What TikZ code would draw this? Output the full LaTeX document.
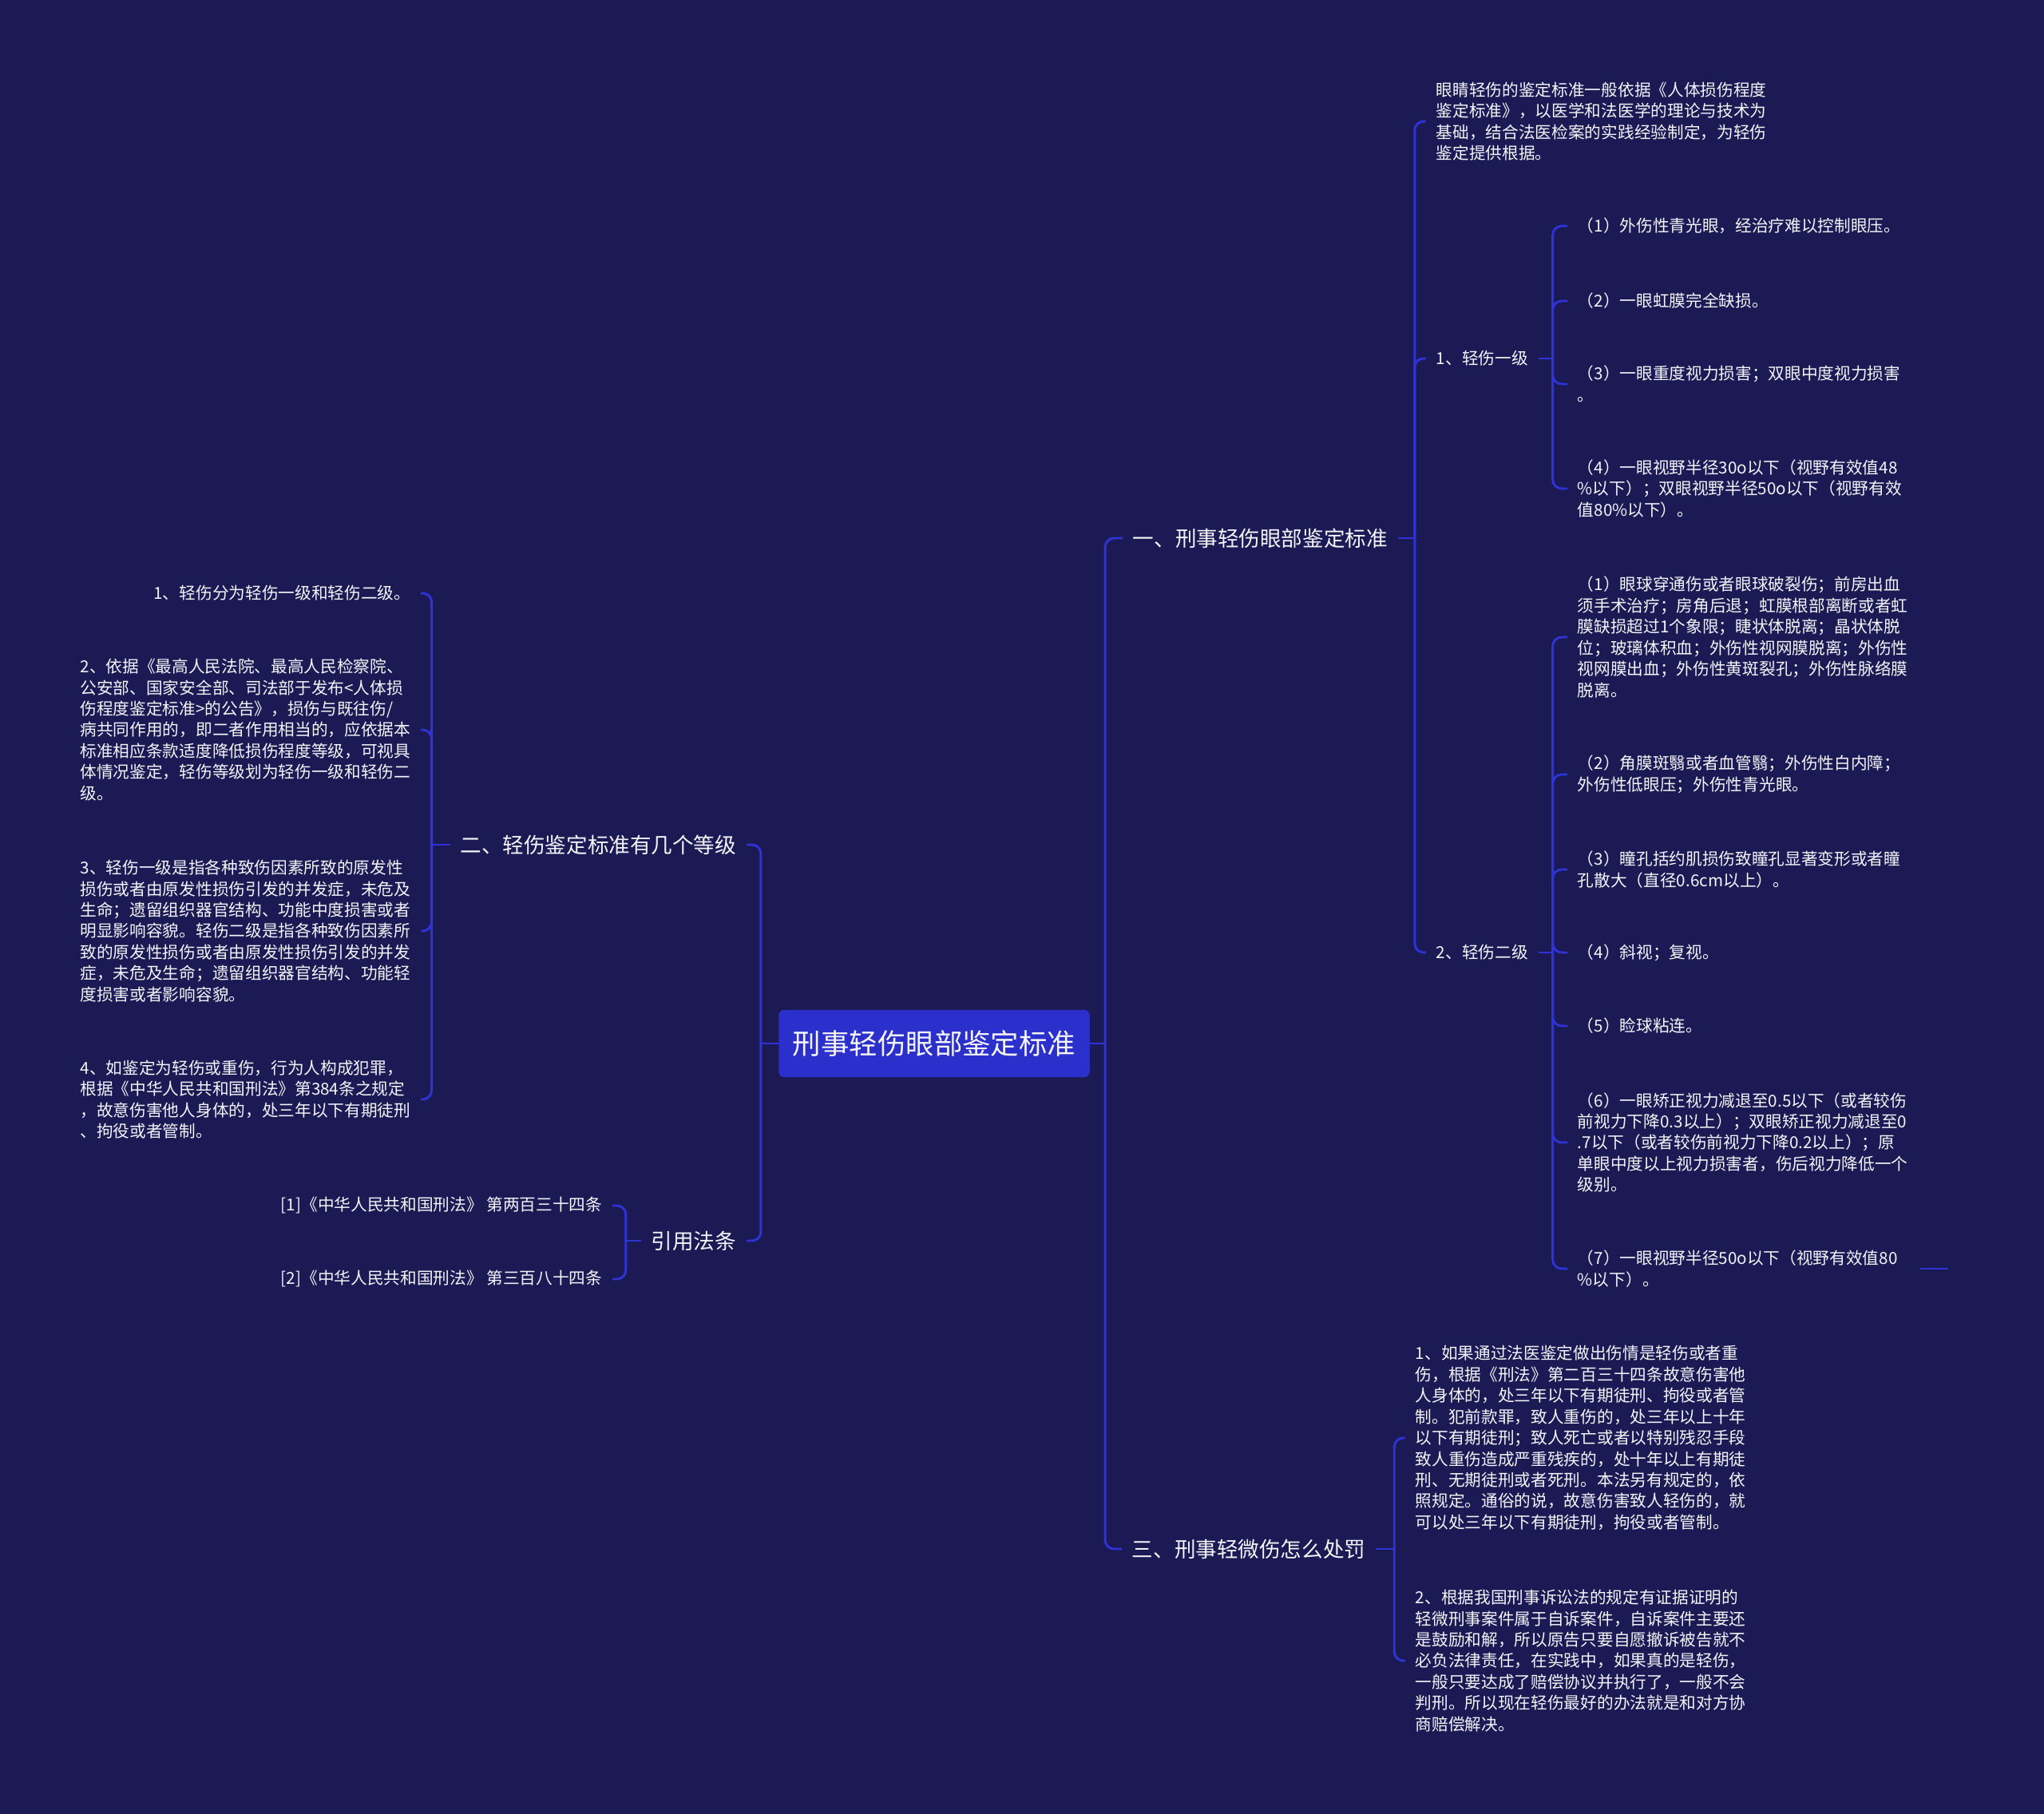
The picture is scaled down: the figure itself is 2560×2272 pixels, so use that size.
\documentclass[tikz,border=0pt]{standalone}
\usepackage{fontspec}
\setmainfont{Noto Sans CJK SC}
\definecolor{mapaFondo}{HTML}{1B1A55}
\definecolor{mapaAzul}{HTML}{2D33D6}
\definecolor{mapaRaiz}{HTML}{2B2FCC}
\definecolor{mapaTexto}{HTML}{F4F4F8}
\tikzset{
	raiz/.style={
		fill=mapaRaiz,
		rounded corners=5pt,
		text=mapaTexto,
		inner sep=0pt,
		minimum width=277pt,
		minimum height=60pt,
		font=\fontsize{25.2}{30}\selectfont
	},
	tema/.style={
		text=mapaTexto,
		inner xsep=9pt,
		inner ysep=2pt,
		font=\fontsize{18.9}{23}\selectfont
	},
	hoja/.style={
		text=mapaTexto,
		align=left,
		inner xsep=9pt,
		inner ysep=2pt,
		font=\fontsize{14.7}{18.8}\selectfont
	},
	enlace/.style={
		draw=mapaAzul,
		line width=2.1pt,
		rounded corners=8pt
	}
}

\begin{document}
\begin{tikzpicture}[x=0.025cm, y=-0.025cm]
	\fill[mapaFondo] (0,0) rectangle (2560,2272);
	\node[raiz] (raiz) at (1170,1307) {刑事轻伤眼部鉴定标准};

	% lado derecho
	\node[tema, anchor=west] (uno) at (1406,674) {一、刑事轻伤眼部鉴定标准};
	\node[tema, anchor=west] (tres) at (1405,1940) {三、刑事轻微伤怎么处罚};

	\node[hoja, anchor=west] (base) at (1786,152) {眼睛轻伤的鉴定标准一般依据《人体损伤程度\\鉴定标准》，以医学和法医学的理论与技术为\\基础，结合法医检案的实践经验制定，为轻伤\\鉴定提供根据。};
	\node[hoja, anchor=west] (g1) at (1786,449) {1、轻伤一级};
	\node[hoja, anchor=west] (g2) at (1786,1193) {2、轻伤二级};

	\node[hoja, anchor=west] (a1) at (1963,283) {（1）外伤性青光眼，经治疗难以控制眼压。};
	\node[hoja, anchor=west] (a2) at (1963,377) {（2）一眼虹膜完全缺损。};
	\node[hoja, anchor=west] (a3) at (1963,481) {（3）一眼重度视力损害；双眼中度视力损害\\。};
	\node[hoja, anchor=west] (a4) at (1963,612) {（4）一眼视野半径30o以下（视野有效值48\\\%以下）；双眼视野半径50o以下（视野有效\\值80\%以下）。};

	\node[hoja, anchor=west] (b1) at (1963,798) {（1）眼球穿通伤或者眼球破裂伤；前房出血\\须手术治疗；房角后退；虹膜根部离断或者虹\\膜缺损超过1个象限；睫状体脱离；晶状体脱\\位；玻璃体积血；外伤性视网膜脱离；外伤性\\视网膜出血；外伤性黄斑裂孔；外伤性脉络膜\\脱离。};
	\node[hoja, anchor=west] (b2) at (1963,970) {（2）角膜斑翳或者血管翳；外伤性白内障；\\外伤性低眼压；外伤性青光眼。};
	\node[hoja, anchor=west] (b3) at (1963,1089) {（3）瞳孔括约肌损伤致瞳孔显著变形或者瞳\\孔散大（直径0.6cm以上）。};
	\node[hoja, anchor=west] (b4) at (1963,1193) {（4）斜视；复视。};
	\node[hoja, anchor=west] (b5) at (1963,1285) {（5）睑球粘连。};
	\node[hoja, anchor=west] (b6) at (1963,1431) {（6）一眼矫正视力减退至0.5以下（或者较伤\\前视力下降0.3以上）；双眼矫正视力减退至0\\.7以下（或者较伤前视力下降0.2以上）；原\\单眼中度以上视力损害者，伤后视力降低一个\\级别。};
	\node[hoja, anchor=west] (b7) at (1963,1589) {（7）一眼视野半径50o以下（视野有效值80\\\%以下）。};
	\coordinate (b7fin) at (2440,1589);

	\node[hoja, anchor=west] (c1) at (1760,1801) {1、如果通过法医鉴定做出伤情是轻伤或者重\\伤，根据《刑法》第二百三十四条故意伤害他\\人身体的，处三年以下有期徒刑、拘役或者管\\制。犯前款罪，致人重伤的，处三年以上十年\\以下有期徒刑；致人死亡或者以特别残忍手段\\致人重伤造成严重残疾的，处十年以上有期徒\\刑、无期徒刑或者死刑。本法另有规定的，依\\照规定。通俗的说，故意伤害致人轻伤的，就\\可以处三年以下有期徒刑，拘役或者管制。};
	\node[hoja, anchor=west] (c2) at (1760,2080) {2、根据我国刑事诉讼法的规定有证据证明的\\轻微刑事案件属于自诉案件，自诉案件主要还\\是鼓励和解，所以原告只要自愿撤诉被告就不\\必负法律责任，在实践中，如果真的是轻伤，\\一般只要达成了赔偿协议并执行了，一般不会\\判刑。所以现在轻伤最好的办法就是和对方协\\商赔偿解决。};

	% lado izquierdo
	\node[tema, anchor=east] (dos) at (935,1058) {二、轻伤鉴定标准有几个等级};
	\node[tema, anchor=east] (cita) at (935,1554) {引用法条};

	\node[hoja, anchor=east] (d1) at (527,743) {1、轻伤分为轻伤一级和轻伤二级。};
	\node[hoja, anchor=east] (d2) at (527,914) {2、依据《最高人民法院、最高人民检察院、\\公安部、国家安全部、司法部于发布<人体损\\伤程度鉴定标准>的公告》，损伤与既往伤/\\病共同作用的，即二者作用相当的，应依据本\\标准相应条款适度降低损伤程度等级，可视具\\体情况鉴定，轻伤等级划为轻伤一级和轻伤二\\级。};
	\node[hoja, anchor=east] (d3) at (527,1166) {3、轻伤一级是指各种致伤因素所致的原发性\\损伤或者由原发性损伤引发的并发症，未危及\\生命；遗留组织器官结构、功能中度损害或者\\明显影响容貌。轻伤二级是指各种致伤因素所\\致的原发性损伤或者由原发性损伤引发的并发\\症，未危及生命；遗留组织器官结构、功能轻\\度损害或者影响容貌。};
	\node[hoja, anchor=east] (d4) at (527,1377) {4、如鉴定为轻伤或重伤，行为人构成犯罪，\\根据《中华人民共和国刑法》第384条之规定\\，故意伤害他人身体的，处三年以下有期徒刑\\、拘役或者管制。};

	\node[hoja, anchor=east] (r1) at (767,1510) {[1]《中华人民共和国刑法》 第两百三十四条};
	\node[hoja, anchor=east] (r2) at (767,1602) {[2]《中华人民共和国刑法》 第三百八十四条};

	% conectores: tramo corto del padre y luego un brazo por hijo
	\draw[enlace] (raiz.east) -- ++(19,0);
	\foreach \h in {uno,tres}
		\draw[enlace] (raiz.east) ++(19,0) |- (\h.west);
	\draw[enlace] (raiz.west) -- ++(-22,0);
	\foreach \h in {dos,cita}
		\draw[enlace] (raiz.west) ++(-22,0) |- (\h.east);
	\draw[enlace] (uno.east) -- ++(21,0);
	\foreach \h in {base,g1,g2}
		\draw[enlace] (uno.east) ++(21,0) |- (\h.west);
	\draw[enlace] (g1.east) -- ++(18,0);
	\foreach \h in {a1,a2,a3,a4}
		\draw[enlace] (g1.east) ++(18,0) |- (\h.west);
	\draw[enlace] (g2.east) -- ++(18,0);
	\foreach \h in {b1,b2,b3,b4,b5,b6,b7}
		\draw[enlace] (g2.east) ++(18,0) |- (\h.west);
	\draw[enlace] (tres.east) -- ++(23,0);
	\foreach \h in {c1,c2}
		\draw[enlace] (tres.east) ++(23,0) |- (\h.west);
	\draw[enlace] (dos.west) -- ++(-23,0);
	\foreach \h in {d1,d2,d3,d4}
		\draw[enlace] (dos.west) ++(-23,0) |- (\h.east);
	\draw[enlace] (cita.west) -- ++(-19,0);
	\foreach \h in {r1,r2}
		\draw[enlace] (cita.west) ++(-19,0) |- (\h.east);
	\draw[enlace] (b7.east) ++(15,0) -- (b7fin);
\end{tikzpicture}
\end{document}
